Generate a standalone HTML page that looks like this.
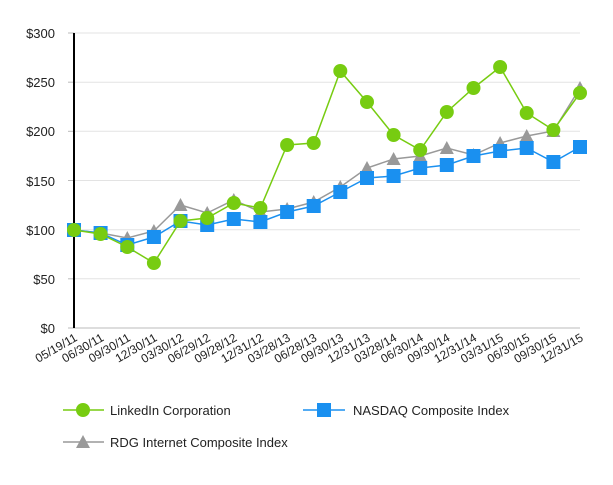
<!DOCTYPE html>
<html><head><style>body{margin:0;background:#fff}svg{font-family:"Liberation Sans",Arial,sans-serif}</style></head><body>
<svg width="613" height="480" viewBox="0 0 613 480">
<g stroke="#e3e3e3" stroke-width="1">
<line x1="74" x2="580" y1="33" y2="33"/><line x1="74" x2="580" y1="82.2" y2="82.2"/><line x1="74" x2="580" y1="131.3" y2="131.3"/><line x1="74" x2="580" y1="180.5" y2="180.5"/><line x1="74" x2="580" y1="229.7" y2="229.7"/><line x1="74" x2="580" y1="278.8" y2="278.8"/></g>
<line x1="68" x2="580" y1="328" y2="328" stroke="#bbb"/>
<g stroke="#bbb"><line x1="68" x2="74" y1="33" y2="33"/><line x1="68" x2="74" y1="82.2" y2="82.2"/><line x1="68" x2="74" y1="131.3" y2="131.3"/><line x1="68" x2="74" y1="180.5" y2="180.5"/><line x1="68" x2="74" y1="229.7" y2="229.7"/><line x1="68" x2="74" y1="278.8" y2="278.8"/></g>
<line x1="74" x2="74" y1="33" y2="328" stroke="#000" stroke-width="2"/>
<g font-size="13" fill="#222" text-anchor="end">
<text x="55" y="38">$300</text><text x="55" y="87">$250</text><text x="55" y="136">$200</text><text x="55" y="186">$150</text><text x="55" y="235">$100</text><text x="55" y="284">$50</text><text x="55" y="333">$0</text></g>
<g font-size="12" fill="#222" text-anchor="end">
<text transform="translate(78,340) rotate(-30)">05/19/11</text>
<text transform="translate(104.6,340) rotate(-30)">06/30/11</text>
<text transform="translate(131.3,340) rotate(-30)">09/30/11</text>
<text transform="translate(157.9,340) rotate(-30)">12/30/11</text>
<text transform="translate(184.5,340) rotate(-30)">03/30/12</text>
<text transform="translate(211.2,340) rotate(-30)">06/29/12</text>
<text transform="translate(237.8,340) rotate(-30)">09/28/12</text>
<text transform="translate(264.4,340) rotate(-30)">12/31/12</text>
<text transform="translate(291.1,340) rotate(-30)">03/28/13</text>
<text transform="translate(317.7,340) rotate(-30)">06/28/13</text>
<text transform="translate(344.3,340) rotate(-30)">09/30/13</text>
<text transform="translate(371,340) rotate(-30)">12/31/13</text>
<text transform="translate(397.6,340) rotate(-30)">03/28/14</text>
<text transform="translate(424.2,340) rotate(-30)">06/30/14</text>
<text transform="translate(450.8,340) rotate(-30)">09/30/14</text>
<text transform="translate(477.5,340) rotate(-30)">12/31/14</text>
<text transform="translate(504.1,340) rotate(-30)">03/31/15</text>
<text transform="translate(530.7,340) rotate(-30)">06/30/15</text>
<text transform="translate(557.4,340) rotate(-30)">09/30/15</text>
<text transform="translate(584,340) rotate(-30)">12/31/15</text></g>
<defs>
<circle id="c" r="7" fill="#77cc11"/>
<rect id="s" x="-7" y="-7" width="14" height="14" fill="#1a90f0"/>
<polygon id="t" points="0,-7 7,6 -7,6" fill="#999"/>
</defs>
<polyline fill="none" stroke="#999" stroke-width="1.5" points="74,230 100.6,233 127.3,238 153.9,231 180.5,205 207.2,213 233.8,200 260.4,212 287.1,209 313.7,202 340.3,187 367,168 393.6,159 420.2,156 446.8,148 473.5,155 500.1,143 526.7,136 553.4,131 580,88"/>
<g><use href="#t" x="74" y="230"/><use href="#t" x="100.6" y="233"/><use href="#t" x="127.3" y="238"/><use href="#t" x="153.9" y="231"/><use href="#t" x="180.5" y="205"/><use href="#t" x="207.2" y="213"/><use href="#t" x="233.8" y="200"/><use href="#t" x="260.4" y="212"/><use href="#t" x="287.1" y="209"/><use href="#t" x="313.7" y="202"/><use href="#t" x="340.3" y="187"/><use href="#t" x="367" y="168"/><use href="#t" x="393.6" y="159"/><use href="#t" x="420.2" y="156"/><use href="#t" x="446.8" y="148"/><use href="#t" x="473.5" y="155"/><use href="#t" x="500.1" y="143"/><use href="#t" x="526.7" y="136"/><use href="#t" x="553.4" y="131"/><use href="#t" x="580" y="88"/></g>
<polyline fill="none" stroke="#1a90f0" stroke-width="1.5" points="74,230 100.6,233 127.3,245 153.9,237 180.5,221 207.2,225 233.8,219 260.4,222 287.1,212 313.7,206 340.3,192 367,178 393.6,176 420.2,168 446.8,165 473.5,156 500.1,151 526.7,148 553.4,162 580,147"/>
<g><use href="#s" x="74" y="230"/><use href="#s" x="100.6" y="233"/><use href="#s" x="127.3" y="245"/><use href="#s" x="153.9" y="237"/><use href="#s" x="180.5" y="221"/><use href="#s" x="207.2" y="225"/><use href="#s" x="233.8" y="219"/><use href="#s" x="260.4" y="222"/><use href="#s" x="287.1" y="212"/><use href="#s" x="313.7" y="206"/><use href="#s" x="340.3" y="192"/><use href="#s" x="367" y="178"/><use href="#s" x="393.6" y="176"/><use href="#s" x="420.2" y="168"/><use href="#s" x="446.8" y="165"/><use href="#s" x="473.5" y="156"/><use href="#s" x="500.1" y="151"/><use href="#s" x="526.7" y="148"/><use href="#s" x="553.4" y="162"/><use href="#s" x="580" y="147"/></g>
<polyline fill="none" stroke="#77cc11" stroke-width="1.5" points="74,230 100.6,234 127.3,247 153.9,263 180.5,221 207.2,218 233.8,203 260.4,208 287.1,145 313.7,143 340.3,71 367,102 393.6,135 420.2,150 446.8,112 473.5,88 500.1,67 526.7,113 553.4,130 580,93"/>
<g><use href="#c" x="74" y="230"/><use href="#c" x="100.6" y="234"/><use href="#c" x="127.3" y="247"/><use href="#c" x="153.9" y="263"/><use href="#c" x="180.5" y="221"/><use href="#c" x="207.2" y="218"/><use href="#c" x="233.8" y="203"/><use href="#c" x="260.4" y="208"/><use href="#c" x="287.1" y="145"/><use href="#c" x="313.7" y="143"/><use href="#c" x="340.3" y="71"/><use href="#c" x="367" y="102"/><use href="#c" x="393.6" y="135"/><use href="#c" x="420.2" y="150"/><use href="#c" x="446.8" y="112"/><use href="#c" x="473.5" y="88"/><use href="#c" x="500.1" y="67"/><use href="#c" x="526.7" y="113"/><use href="#c" x="553.4" y="130"/><use href="#c" x="580" y="93"/></g>
<g font-size="13" fill="#222">
<line x1="63" x2="104" y1="410" y2="410" stroke="#77cc11" stroke-width="1.5"/><use href="#c" x="83" y="410"/>
<text x="110" y="415">LinkedIn Corporation</text>
<line x1="303" x2="345" y1="410" y2="410" stroke="#1a90f0" stroke-width="1.5"/><use href="#s" x="324" y="410"/>
<text x="353" y="415">NASDAQ Composite Index</text>
<line x1="63" x2="104" y1="442" y2="442" stroke="#999" stroke-width="1.5"/><use href="#t" x="83" y="442"/>
<text x="110" y="447">RDG Internet Composite Index</text>
</g>
</svg>
</body></html>
